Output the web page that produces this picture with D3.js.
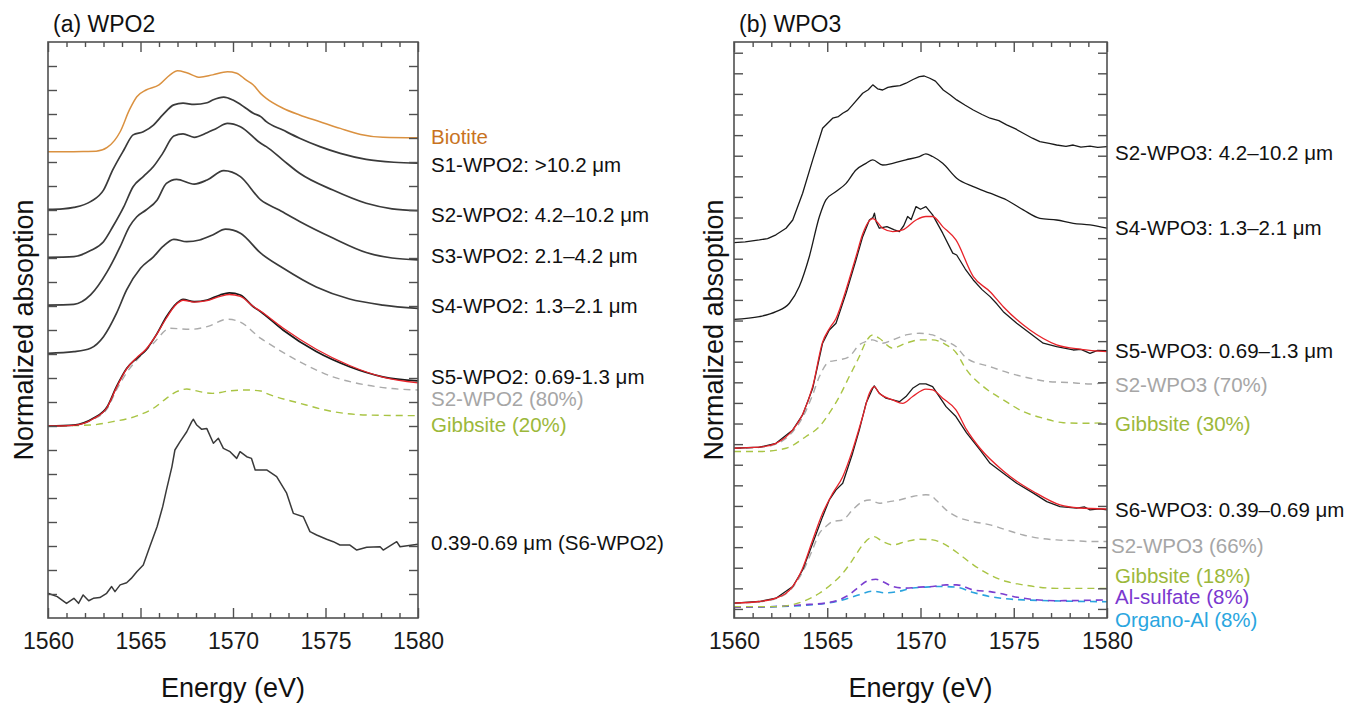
<!DOCTYPE html>
<html>
<head>
<meta charset="utf-8">
<script src="https://cdn.jsdelivr.net/npm/d3@7"></script>
<style>
  body { margin: 0; background: #fff; }
  text { font-family: "Liberation Sans", Arial, Helvetica, sans-serif; }
</style>
</head>
<body>
<div id="chart"></div>
<script>
// ---- data: [energy (eV), offset absorption] ----
var energyTicks = [1560, 1565, 1570, 1575, 1580];
var energyMinor = [1561, 1562, 1563, 1564, 1566, 1567, 1568, 1569, 1571, 1572, 1573, 1574, 1576, 1577, 1578, 1579];

// panel (a) WPO2
var biotite = [[1560,19.43],[1561,19.43],[1562,19.44],[1562.6,19.45],[1563.2,19.61],[1563.6,19.9],[1563.9,20.26],[1564.4,21.17],[1564.8,21.72],[1565.3,22.0],[1566.0,22.21],[1566.6,22.63],[1567.0,22.8],[1567.5,22.72],[1568.2,22.53],[1568.9,22.63],[1569.7,22.76],[1570.2,22.7],[1570.7,22.42],[1571.1,22.21],[1571.5,21.85],[1571.8,21.65],[1572.7,21.24],[1573.6,20.96],[1574.7,20.68],[1575.8,20.4],[1576.9,20.15],[1578.1,20.03],[1580,20.01]];
var s1wpo2 = [[1560,17.03],[1560.8,17.05],[1561.4,17.11],[1562.3,17.35],[1563.0,17.83],[1563.5,18.67],[1564.1,19.5],[1564.6,20.13],[1565.15,20.26],[1565.7,20.54],[1566.2,20.96],[1566.8,21.38],[1567.3,21.45],[1567.9,21.4],[1568.6,21.47],[1568.9,21.58],[1569.5,21.7],[1570.0,21.58],[1570.7,21.24],[1571.1,21.03],[1571.5,20.89],[1571.8,20.68],[1572.7,20.33],[1573.6,19.99],[1574.7,19.64],[1575.8,19.36],[1577.2,19.11],[1578.7,18.99],[1580,18.95]];
var s2wpo2 = [[1560,15.03],[1561.4,15.06],[1562.3,15.31],[1563.0,15.68],[1563.5,16.3],[1564.1,17.14],[1564.6,17.97],[1565.15,18.39],[1565.7,18.81],[1566.2,19.36],[1566.8,20.08],[1567.3,20.17],[1567.9,20.03],[1568.6,20.22],[1569.1,20.4],[1569.7,20.61],[1570.4,20.47],[1571.5,19.78],[1571.8,19.64],[1572.7,19.08],[1573.6,18.53],[1575.4,17.83],[1577.2,17.28],[1578.6,17.05],[1580,16.97]];
var s3wpo2 = [[1560,13.04],[1561.4,13.07],[1562.3,13.46],[1563.2,14.43],[1563.9,15.47],[1564.4,16.31],[1564.8,16.72],[1565.3,17.0],[1565.9,17.42],[1566.4,18.11],[1566.95,18.28],[1567.9,18.08],[1568.6,18.25],[1569.5,18.64],[1570.4,18.39],[1571.5,17.42],[1572.5,17.0],[1573.6,16.52],[1575.4,15.83],[1577.2,15.23],[1578.6,15.0],[1580,14.92]];
var s4wpo2 = [[1560,11.03],[1561.4,11.1],[1562.3,11.24],[1563.0,11.72],[1563.7,12.69],[1564.25,13.67],[1565.0,14.57],[1565.7,15.05],[1566.2,15.47],[1566.8,15.78],[1567.5,15.68],[1568.2,15.75],[1568.9,15.96],[1569.6,16.2],[1570.4,16.03],[1571.5,15.2],[1572.7,14.58],[1574.5,13.79],[1576.3,13.29],[1578.1,13.04],[1580,12.9]];
var s5wpo2 = [[1560,8.0],[1561.4,8.04],[1562.45,8.32],[1563.2,8.8],[1563.7,9.64],[1564.25,10.4],[1564.8,10.82],[1565.3,11.17],[1565.9,11.86],[1566.4,12.55],[1566.95,13.11],[1567.3,13.28],[1567.9,13.18],[1568.6,13.25],[1569.3,13.46],[1569.8,13.55],[1570.4,13.46],[1571.1,12.97],[1571.5,12.76],[1572.7,12.0],[1574.5,11.1],[1576.3,10.47],[1578.1,10.05],[1580,9.88]];
var fit5wpo2 = [[1560,8.0],[1561.4,8.03],[1562.45,8.3],[1563.2,8.78],[1563.7,9.6],[1564.25,10.38],[1564.8,10.85],[1565.3,11.2],[1565.9,11.85],[1566.4,12.5],[1566.95,13.08],[1567.3,13.24],[1567.9,13.16],[1568.6,13.22],[1569.3,13.4],[1569.8,13.48],[1570.4,13.4],[1571.1,12.98],[1571.5,12.78],[1572.7,12.08],[1574.5,11.2],[1576.3,10.52],[1578.1,10.04],[1580,9.8]];
var s2part80 = [[1560,8.0],[1561.4,8.03],[1562.45,8.28],[1563.2,8.72],[1563.7,9.5],[1564.25,10.22],[1564.8,10.75],[1565.7,11.45],[1566.6,12.07],[1567.7,12.03],[1568.6,12.14],[1569.7,12.45],[1570.4,12.33],[1571.5,11.65],[1571.8,11.5],[1573.6,10.68],[1575.4,10.05],[1577.2,9.71],[1578.6,9.56],[1580,9.5]];
var gibb20 = [[1560,8.0],[1562.3,8.04],[1563.5,8.18],[1564.8,8.42],[1565.7,8.74],[1566.4,9.15],[1566.95,9.43],[1567.5,9.54],[1568.2,9.43],[1568.9,9.36],[1569.8,9.46],[1570.7,9.5],[1571.5,9.46],[1571.8,9.36],[1573.6,8.95],[1575.4,8.6],[1577.2,8.46],[1580,8.43]];
var s6wpo2 = [[1560,1.03],[1560.5,0.89],[1561.0,0.61],[1561.4,0.82],[1561.65,0.61],[1561.9,0.96],[1562.2,0.72],[1562.45,0.82],[1562.8,0.85],[1563.17,1.03],[1563.44,1.31],[1563.62,1.1],[1563.9,1.38],[1564.25,1.47],[1564.5,1.65],[1564.8,1.93],[1565.15,2.21],[1565.5,2.97],[1565.9,3.81],[1566.2,4.64],[1566.4,5.33],[1566.7,6.31],[1566.86,7.0],[1567.14,7.35],[1567.5,7.76],[1567.77,8.18],[1567.86,8.28],[1568.04,8.04],[1568.31,7.86],[1568.58,7.9],[1568.94,7.28],[1569.21,7.49],[1569.48,7.07],[1569.84,6.93],[1570.2,6.65],[1570.38,6.93],[1570.74,6.72],[1571.0,6.65],[1571.2,6.17],[1571.5,6.17],[1571.82,6.17],[1572.36,5.89],[1572.9,5.2],[1573.26,4.36],[1573.8,4.22],[1574.16,3.6],[1574.52,3.46],[1575.06,3.28],[1575.42,3.18],[1575.78,3.04],[1576.32,3.04],[1576.69,2.83],[1577.23,2.95],[1577.95,2.97],[1578.12,2.83],[1578.85,3.18],[1579.03,2.97],[1580,3.07]];

// panel (b) WPO3
var s2wpo3 = [[1560,17.78],[1560.6,17.82],[1561.36,17.91],[1561.8,17.98],[1562.25,18.16],[1562.79,18.48],[1563.15,18.88],[1563.68,20.18],[1564.22,21.8],[1564.75,23.33],[1565.29,23.82],[1565.6,23.9],[1565.83,24.06],[1566.1,24.2],[1566.36,24.47],[1566.9,25.03],[1567.2,25.2],[1567.44,25.44],[1567.7,25.25],[1567.97,25.19],[1568.25,25.32],[1568.51,25.36],[1568.9,25.4],[1569.22,25.52],[1569.6,25.7],[1569.94,25.84],[1570.2,25.87],[1570.5,25.76],[1570.8,25.62],[1571.22,25.19],[1571.6,24.95],[1571.94,24.71],[1572.4,24.45],[1572.83,24.22],[1573.3,24.0],[1573.73,23.82],[1574.2,23.7],[1574.62,23.5],[1575.1,23.3],[1575.51,23.09],[1576.0,22.85],[1576.4,22.68],[1576.9,22.6],[1577.3,22.52],[1577.8,22.45],[1578.19,22.52],[1578.6,22.42],[1579.09,22.47],[1579.5,22.4],[1580,22.44]];
var s4wpo3 = [[1560,14.06],[1561.36,14.19],[1562.25,14.43],[1562.97,14.84],[1563.5,15.65],[1564.04,17.11],[1564.58,19.05],[1564.93,19.86],[1565.47,20.26],[1566.01,20.66],[1566.54,21.31],[1567.08,21.63],[1567.44,21.8],[1567.97,21.55],[1568.51,21.63],[1569.22,21.8],[1569.94,21.96],[1570.29,22.09],[1570.65,21.96],[1571.19,21.63],[1571.94,20.91],[1572.83,20.5],[1573.73,20.18],[1574.62,19.85],[1575.51,19.37],[1576.4,18.96],[1577.3,18.88],[1578.19,18.72],[1579.09,18.64],[1580,18.48]];
var s5wpo3 = [[1560,7.8],[1561.36,7.85],[1562.25,8.04],[1563.15,8.69],[1563.68,9.42],[1564.22,10.71],[1564.75,12.9],[1565.11,13.54],[1565.47,13.87],[1566.01,15.33],[1566.54,16.94],[1566.9,18.07],[1567.26,18.88],[1567.45,19.0],[1567.53,19.21],[1567.62,18.8],[1567.79,18.48],[1568.2,18.56],[1568.6,18.4],[1568.87,18.32],[1569.1,18.6],[1569.31,19.05],[1569.5,18.9],[1569.76,19.53],[1570.0,19.4],[1570.29,19.53],[1570.65,19.13],[1571.19,18.24],[1571.73,17.27],[1571.94,17.18],[1572.4,16.5],[1572.83,15.97],[1573.3,15.5],[1573.73,15.16],[1574.1,14.8],[1574.44,14.43],[1575.16,13.87],[1575.87,13.38],[1576.58,12.9],[1577.3,12.73],[1578.19,12.57],[1578.6,12.6],[1579.09,12.41],[1579.5,12.55],[1580,12.54]];
var fit5wpo3 = [[1560,7.8],[1561.36,7.85],[1562.25,8.04],[1563.15,8.69],[1563.68,9.45],[1564.22,10.8],[1564.75,12.95],[1565.11,13.6],[1565.47,14.1],[1566.01,15.5],[1566.54,17.1],[1566.9,18.2],[1567.26,18.85],[1567.44,18.95],[1567.97,18.48],[1568.51,18.32],[1569.04,18.4],[1569.76,18.88],[1570.29,19.05],[1570.65,19.05],[1571.19,18.56],[1571.9,17.91],[1572.83,16.13],[1573.73,15.4],[1574.44,14.67],[1575.87,13.54],[1577.3,12.82],[1578.6,12.6],[1580,12.49]];
var s2part70 = [[1560,7.8],[1561.36,7.84],[1562.25,8.0],[1563.15,8.6],[1563.68,9.3],[1564.22,10.4],[1564.58,11.28],[1565.11,12.0],[1565.65,12.09],[1566.18,12.25],[1566.72,12.82],[1567.08,12.98],[1567.44,13.06],[1567.97,12.9],[1568.51,13.06],[1569.22,13.3],[1569.94,13.38],[1570.65,13.3],[1571.19,13.06],[1571.9,12.74],[1572.47,12.17],[1573.73,11.76],[1574.8,11.44],[1575.87,11.2],[1576.94,11.03],[1578.01,10.99],[1579.09,10.92],[1580,10.99]];
var gibb30 = [[1560,7.64],[1561.36,7.64],[1562.79,7.8],[1563.86,8.37],[1564.58,8.85],[1565.11,9.5],[1565.65,10.31],[1566.18,11.28],[1566.72,12.25],[1567.08,12.98],[1567.44,13.3],[1567.79,13.14],[1568.51,12.66],[1569.22,12.9],[1569.94,13.06],[1570.65,13.06],[1571.37,12.82],[1571.9,12.45],[1572.47,11.6],[1573.37,10.79],[1574.44,10.15],[1575.51,9.58],[1576.58,9.26],[1577.66,9.04],[1578.73,9.01],[1580,9.04]];
var s6wpo3 = [[1560,0.28],[1561.36,0.36],[1562.25,0.52],[1563.15,1.09],[1563.68,1.89],[1564.22,3.19],[1564.75,4.48],[1565.11,5.29],[1565.47,5.78],[1565.83,6.1],[1566.36,7.56],[1566.72,8.69],[1567.08,9.98],[1567.44,10.71],[1567.52,10.83],[1567.79,10.47],[1568.15,10.23],[1568.51,10.15],[1568.87,10.06],[1569.22,10.31],[1569.58,10.71],[1569.94,10.92],[1570.29,10.92],[1570.65,10.79],[1571.01,10.31],[1571.37,9.82],[1571.9,9.34],[1572.47,8.55],[1573.19,7.72],[1573.73,7.07],[1574.44,6.59],[1575.16,6.1],[1576.05,5.62],[1576.77,5.21],[1577.48,4.97],[1578.37,4.89],[1578.8,4.95],[1579.09,4.81],[1579.6,4.86],[1580,4.81]];
var fit6wpo3 = [[1560,0.28],[1561.36,0.36],[1562.25,0.52],[1563.15,1.09],[1563.68,1.98],[1564.22,3.35],[1564.75,4.64],[1565.29,5.61],[1565.83,6.42],[1566.36,7.72],[1566.9,9.34],[1567.26,10.47],[1567.52,10.79],[1567.79,10.47],[1568.51,10.15],[1569.04,9.98],[1569.58,10.31],[1570.29,10.67],[1570.65,10.63],[1571.19,10.23],[1571.9,9.66],[1572.47,8.7],[1573.19,7.8],[1574.44,6.7],[1575.16,6.2],[1576.05,5.7],[1577.48,5.05],[1578.5,4.9],[1580,4.85]];
var s2part66 = [[1560,0.28],[1561.36,0.35],[1562.25,0.5],[1563.15,1.05],[1563.68,1.8],[1564.22,2.9],[1564.6,3.7],[1564.93,4.0],[1565.29,4.24],[1565.83,4.32],[1566.36,4.81],[1566.9,5.21],[1567.26,5.29],[1567.79,5.13],[1568.33,5.21],[1568.87,5.29],[1569.58,5.46],[1570.29,5.54],[1570.51,5.53],[1570.83,5.29],[1571.37,4.81],[1571.94,4.48],[1572.83,4.24],[1573.73,4.08],[1574.62,3.83],[1575.51,3.59],[1576.4,3.43],[1577.3,3.35],[1578.19,3.32],[1579.09,3.27],[1580,3.27]];
var gibb18 = [[1560,0.11],[1562.25,0.11],[1563.68,0.36],[1564.58,0.76],[1565.29,1.25],[1565.83,1.73],[1566.36,2.38],[1566.9,3.11],[1567.26,3.43],[1567.52,3.51],[1567.97,3.27],[1568.51,3.11],[1569.22,3.27],[1569.94,3.38],[1570.65,3.35],[1571.19,3.19],[1571.94,2.75],[1572.83,2.14],[1573.73,1.65],[1574.62,1.33],[1575.51,1.17],[1577.3,1.0],[1580,1.0]];
var alSulfate8 = [[1560,0.08],[1562.25,0.12],[1563.68,0.2],[1564.93,0.29],[1565.65,0.45],[1566.18,0.69],[1566.72,1.09],[1567.08,1.33],[1567.61,1.44],[1567.97,1.33],[1568.51,1.09],[1569.22,1.01],[1569.94,1.06],[1570.65,1.09],[1571.37,1.17],[1571.94,1.17],[1572.83,0.92],[1573.73,0.84],[1575.51,0.52],[1577.3,0.4],[1580,0.44]];
var organoAl8 = [[1560,0.08],[1562.25,0.11],[1564.04,0.19],[1564.93,0.27],[1565.83,0.44],[1566.72,0.69],[1567.44,0.86],[1568.15,0.78],[1568.87,0.86],[1569.58,1.02],[1570.29,1.06],[1571.01,1.09],[1571.9,1.06],[1572.83,0.8],[1573.73,0.6],[1575.51,0.44],[1580,0.35]];

// label texts with the value they sit at
var labelsA = [
  {text: "Biotite", color: "#c8731f", at: 19.77},
  {text: "S1-WPO2: >10.2 \u03bcm", color: "#111", at: 18.58},
  {text: "S2-WPO2: 4.2\u201310.2 \u03bcm", color: "#111", at: 16.5},
  {text: "S3-WPO2: 2.1\u20134.2 \u03bcm", color: "#111", at: 14.79},
  {text: "S4-WPO2: 1.3\u20132.1 \u03bcm", color: "#111", at: 12.69},
  {text: "S5-WPO2: 0.69-1.3 \u03bcm", color: "#111", at: 9.75},
  {text: "S2-WPO2 (80%)", color: "#a6a6a6", at: 8.85},
  {text: "Gibbsite (20%)", color: "#9cb83a", at: 7.77},
  {text: "0.39-0.69 \u03bcm (S6-WPO2)", color: "#111", at: 2.83}
];
var labelsB = [
  {text: "S2-WPO3: 4.2\u201310.2 \u03bcm", color: "#111", at: 21.8},
  {text: "S4-WPO3: 1.3\u20132.1 \u03bcm", color: "#111", at: 18.16},
  {text: "S5-WPO3: 0.69\u20131.3 \u03bcm", color: "#111", at: 12.18},
  {text: "S2-WPO3 (70%)", color: "#a6a6a6", at: 10.53},
  {text: "Gibbsite (30%)", color: "#9cb83a", at: 8.64},
  {text: "S6-WPO3: 0.39\u20130.69 \u03bcm", color: "#111", at: 4.47},
  {text: "S2-WPO3 (66%)", color: "#a6a6a6", at: 2.72, dx: -4},
  {text: "Gibbsite (18%)", color: "#9cb83a", at: 1.24},
  {text: "Al-sulfate (8%)", color: "#7a38cf", at: 0.24},
  {text: "Organo-Al (8%)", color: "#2aa6e0", at: -0.86}
];

(function() {
  var width = 1351,
      height = 706,
      top = 42,
      bottom = 618;

  var black = "#1a1a1a", dark = "#3a3a3a", red = "#e8232a",
      grey = "#ababab", green = "#a9c444", purple = "#7b3fd0", blue = "#2aa3de";
  var dash = "7,5";

  var panels = [
    {
      title: "(a) WPO2", left: 48, right: 418, yDomain: [0, 24], yTicks: d3.range(1, 24),
      labelX: 431, ylabelX: 33, labels: labelsA,
      series: [
        {data: biotite, color: "#da9140", w: 1.5},
        {data: s1wpo2, color: dark, w: 1.7},
        {data: s2wpo2, color: dark, w: 1.7},
        {data: s3wpo2, color: dark, w: 1.7},
        {data: s4wpo2, color: dark, w: 1.7},
        {data: gibb20, color: green, w: 1.4, dash: dash},
        {data: s2part80, color: grey, w: 1.4, dash: dash},
        {data: s5wpo2, color: black, w: 1.7},
        {data: fit5wpo2, color: red, w: 1.3},
        {data: s6wpo2, color: dark, w: 1.5, linear: true}
      ]
    },
    {
      title: "(b) WPO3", left: 734, right: 1107, yDomain: [-0.44, 27.52], yTicks: d3.range(0, 28),
      labelX: 1115, ylabelX: 723, labels: labelsB,
      series: [
        {data: s2wpo3, color: black, w: 1.3, linear: true},
        {data: s4wpo3, color: black, w: 1.3},
        {data: gibb30, color: green, w: 1.4, dash: dash},
        {data: s2part70, color: grey, w: 1.4, dash: dash},
        {data: s5wpo3, color: black, w: 1.3, linear: true},
        {data: fit5wpo3, color: red, w: 1.3},
        {data: organoAl8, color: blue, w: 1.6, dash: dash},
        {data: alSulfate8, color: purple, w: 1.6, dash: dash},
        {data: gibb18, color: green, w: 1.4, dash: dash},
        {data: s2part66, color: grey, w: 1.4, dash: dash},
        {data: s6wpo3, color: black, w: 1.3, linear: true},
        {data: fit6wpo3, color: red, w: 1.3}
      ]
    }
  ];

  var svg = d3.select("#chart")
    .append("svg")
    .attr("width", width)
    .attr("height", height);

  panels.forEach(drawPanel);

  function drawPanel(p) {
    var x = d3.scaleLinear().domain([1560, 1580]).range([p.left, p.right]);
    var y = d3.scaleLinear().domain(p.yDomain).range([bottom, top]);

    var g = svg.append("g");

    var line = d3.line()
      .x(function(d) { return x(d[0]); })
      .y(function(d) { return y(d[1]); });

    p.series.forEach(function(s) {
      line.curve(s.linear ? d3.curveLinear : d3.curveMonotoneX);
      g.append("path")
        .datum(s.data)
        .attr("d", line)
        .attr("fill", "none")
        .attr("stroke", s.color)
        .attr("stroke-width", s.w)
        .attr("stroke-linejoin", "round")
        .attr("stroke-dasharray", s.dash || null);
    });

    // ticks, all pointing inward
    var axes = [
      {axis: d3.axisBottom(x).tickValues(energyTicks).tickSize(-10).tickPadding(15).tickFormat(d3.format("d")), t: "translate(0," + bottom + ")"},
      {axis: d3.axisBottom(x).tickValues(energyMinor).tickSize(-5).tickFormat(""), t: "translate(0," + bottom + ")"},
      {axis: d3.axisTop(x).tickValues(energyTicks).tickSize(-10).tickFormat(""), t: "translate(0," + top + ")"},
      {axis: d3.axisTop(x).tickValues(energyMinor).tickSize(-5).tickFormat(""), t: "translate(0," + top + ")"},
      {axis: d3.axisLeft(y).tickValues(p.yTicks).tickSize(-9).tickFormat(""), t: "translate(" + p.left + ",0)"},
      {axis: d3.axisRight(y).tickValues(p.yTicks).tickSize(-9).tickFormat(""), t: "translate(" + p.right + ",0)"}
    ];

    axes.forEach(function(a) {
      var ag = g.append("g")
        .attr("transform", a.t)
        .call(a.axis);
      ag.select(".domain").remove();
      ag.selectAll("line").attr("stroke", "#505050").attr("stroke-width", 1.4);
      ag.selectAll("text")
        .attr("font-size", 23)
        .attr("fill", "#1a1a1a")
        .attr("font-family", "'Liberation Sans', Arial, sans-serif");
    });

    g.append("rect")
      .attr("x", p.left)
      .attr("y", top)
      .attr("width", p.right - p.left)
      .attr("height", bottom - top)
      .attr("fill", "none")
      .attr("stroke", "#505050")
      .attr("stroke-width", 1.6);

    g.append("text")
      .attr("x", p.left + 5)
      .attr("y", 32)
      .attr("font-size", 23)
      .attr("fill", "#111")
      .text(p.title);

    g.append("text")
      .attr("x", (p.left + p.right) / 2)
      .attr("y", 697)
      .attr("text-anchor", "middle")
      .attr("font-size", 27)
      .attr("fill", "#111")
      .text("Energy (eV)");

    g.append("text")
      .attr("transform", "translate(" + p.ylabelX + "," + (top + bottom) / 2 + ") rotate(-90)")
      .attr("text-anchor", "middle")
      .attr("font-size", 27)
      .attr("fill", "#111")
      .text("Normalized absoption");

    g.selectAll(".series-label")
      .data(p.labels)
      .enter()
      .append("text")
      .attr("class", "series-label")
      .attr("x", function(d) { return p.labelX + (d.dx || 0); })
      .attr("y", function(d) { return y(d.at); })
      .attr("font-size", 20.5)
      .attr("fill", function(d) { return d.color; })
      .text(function(d) { return d.text; });
  }
})();
</script>
</body>
</html>
